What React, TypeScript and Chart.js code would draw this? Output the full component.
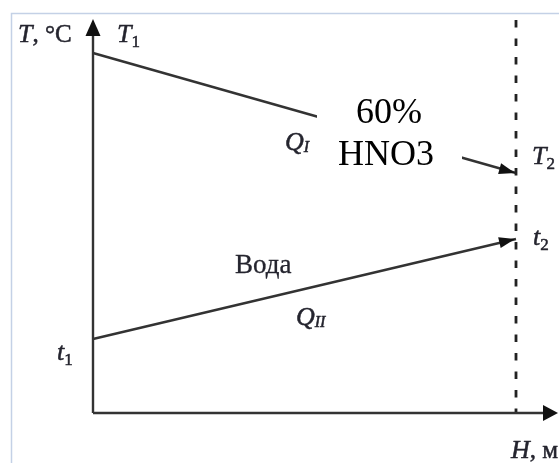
import { useEffect, useRef } from "react";
import { Chart, registerables } from "chart.js";

Chart.register(...registerables);

// Relative height of the column section: inlet and outlet
const SECTION_H = [0, 1];
// Acid temperature along the height: T1 at the inlet, T2 at the outlet
const ACID_T = [90, 60];
// Cooling water temperature: t1 at the inlet, t2 at the outlet
const WATER_T = [18.5, 43.5];

const ACID_LABEL = ["60%", "HNO3"];
const WATER_LABEL = "Вода";
const AXIS_Y_LABEL = ["T", ", °C"];
const AXIS_X_LABEL = ["H", ", м"];
const ACID_POINT_LABELS = [["T", "1"], ["T", "2"]];
const WATER_POINT_LABELS = [["t", "1"], ["t", "2"]];
const HEAT_LABELS = [["Q", "I"], ["Q", "II"]];

const INK = "#24242e";
const LINE = "#333333";
const SERIF = '"Liberation Serif", "Times New Roman", serif';

type Run = { t: string; it?: boolean; size: number; dy?: number };

// Draws a sequence of text runs; a hairline stroke gives the formula text a heavier face
function drawRuns(ctx: CanvasRenderingContext2D, x: number, y: number, runs: Run[], weight = 0.5) {
  let cx = x;
  ctx.textAlign = "left";
  ctx.textBaseline = "alphabetic";
  ctx.fillStyle = INK;
  ctx.strokeStyle = INK;
  ctx.lineWidth = weight;
  ctx.lineJoin = "round";
  for (const r of runs) {
    ctx.font = `${r.it ? "italic " : ""}${r.size}px ${SERIF}`;
    ctx.fillText(r.t, cx, y + (r.dy ?? 0));
    if (weight > 0) ctx.strokeText(r.t, cx, y + (r.dy ?? 0));
    cx += ctx.measureText(r.t).width;
  }
}

function sym(parts: string[]): Run[] {
  return [
    { t: parts[0], it: true, size: 26 },
    { t: parts[1], size: 17, dy: 5 },
  ];
}

function heat(parts: string[]): Run[] {
  return [
    { t: parts[0], it: true, size: 26 },
    { t: parts[1], it: true, size: 16, dy: 2 },
  ];
}

function arrowHead(
  ctx: CanvasRenderingContext2D,
  tipX: number,
  tipY: number,
  angle: number,
  len: number,
  half: number
) {
  const c = Math.cos(angle);
  const s = Math.sin(angle);
  const bx = tipX - c * len;
  const by = tipY - s * len;
  ctx.beginPath();
  ctx.moveTo(tipX, tipY);
  ctx.lineTo(bx - s * half, by + c * half);
  ctx.lineTo(bx + s * half, by - c * half);
  ctx.closePath();
  ctx.fill();
}

const schemePlugin = {
  id: "scheme",
  beforeDraw(chart: any) {
    const { ctx } = chart;
    ctx.save();
    ctx.fillStyle = "#ffffff";
    ctx.fillRect(0, 0, chart.width, chart.height);
    // thin frame on the left and top
    ctx.strokeStyle = "#c4d1e6";
    ctx.lineWidth = 1.5;
    ctx.beginPath();
    ctx.moveTo(11.5, chart.height);
    ctx.lineTo(11.5, 13.5);
    ctx.lineTo(chart.width, 13.5);
    ctx.stroke();
    ctx.restore();
  },
  afterDatasetsDraw(chart: any) {
    const { ctx } = chart;
    const xs = chart.scales.x;
    const ys = chart.scales.y;
    const x0 = xs.getPixelForValue(SECTION_H[0]);
    const xEnd = xs.getPixelForValue(SECTION_H[1]);
    const y0 = ys.getPixelForValue(0);

    ctx.save();
    ctx.fillStyle = "#111";

    // outlet boundary, dashed
    ctx.lineWidth = 2.8;
    ctx.strokeStyle = "#222";
    ctx.setLineDash([7.5, 11]);
    ctx.beginPath();
    ctx.moveTo(xEnd, 20);
    ctx.lineTo(xEnd, y0);
    ctx.stroke();
    ctx.setLineDash([]);

    // axes with arrows
    ctx.strokeStyle = LINE;
    ctx.lineWidth = 2.4;
    ctx.beginPath();
    ctx.moveTo(x0, y0);
    ctx.lineTo(x0, 30);
    ctx.moveTo(x0, y0);
    ctx.lineTo(548, y0);
    ctx.stroke();
    arrowHead(ctx, x0, 19, -Math.PI / 2, 17, 7.5);
    arrowHead(ctx, 558, y0, 0, 15, 8);

    // text frame of the acid label hides part of the acid line
    ctx.fillStyle = "#ffffff";
    ctx.fillRect(317, 92, 145, 92);

    // arrowheads at the outlet end of both streams
    ctx.fillStyle = "#111";
    const aP = [0, 1].map((i) => ({ x: xs.getPixelForValue(SECTION_H[i]), y: ys.getPixelForValue(ACID_T[i]) }));
    const wP = [0, 1].map((i) => ({ x: xs.getPixelForValue(SECTION_H[i]), y: ys.getPixelForValue(WATER_T[i]) }));
    arrowHead(ctx, aP[1].x - 1, aP[1].y, Math.atan2(aP[1].y - aP[0].y, aP[1].x - aP[0].x), 16, 5.5);
    arrowHead(ctx, wP[1].x - 1, wP[1].y, Math.atan2(wP[1].y - wP[0].y, wP[1].x - wP[0].x), 16, 5.5);

    // labels
    drawRuns(ctx, 18, 42, [
      { t: AXIS_Y_LABEL[0], it: true, size: 26 },
      { t: AXIS_Y_LABEL[1], size: 25 },
    ]);
    drawRuns(ctx, 511, 458, [
      { t: AXIS_X_LABEL[0], it: true, size: 26 },
      { t: AXIS_X_LABEL[1], size: 25 },
    ]);
    drawRuns(ctx, aP[0].x + 24, aP[0].y - 11, sym(ACID_POINT_LABELS[0]));
    drawRuns(ctx, aP[1].x + 16, aP[1].y - 9, sym(ACID_POINT_LABELS[1]));
    drawRuns(ctx, wP[0].x - 36, wP[0].y + 21, sym(WATER_POINT_LABELS[0]));
    drawRuns(ctx, wP[1].x + 17, wP[1].y + 6, sym(WATER_POINT_LABELS[1]));
    drawRuns(ctx, 285, 150, heat(HEAT_LABELS[0]));
    drawRuns(ctx, 296, 325, heat(HEAT_LABELS[1]));

    drawRuns(ctx, 235, 273, [{ t: WATER_LABEL, size: 27 }], 0.3);

    ctx.fillStyle = "#000";
    ctx.font = `36px ${SERIF}`;
    ctx.textAlign = "center";
    ctx.fillText(ACID_LABEL[0], 389, 123);
    ctx.fillText(ACID_LABEL[1], 386, 165);
    ctx.restore();
  },
};

export default function App() {
  const ref = useRef<HTMLCanvasElement | null>(null);

  useEffect(() => {
    if (!ref.current) return;
    const toPoints = (temps: number[]) => SECTION_H.map((h, i) => ({ x: h, y: temps[i] }));
    const chart = new Chart(ref.current, {
      type: "line",
      data: {
        datasets: [
          {
            label: "HNO3",
            data: toPoints(ACID_T),
            borderColor: LINE,
            borderWidth: 2.4,
            pointRadius: 0,
            clip: false as any,
          },
          {
            label: WATER_LABEL,
            data: toPoints(WATER_T),
            borderColor: LINE,
            borderWidth: 2.4,
            pointRadius: 0,
            clip: false as any,
          },
        ],
      },
      options: {
        responsive: false,
        animation: false,
        devicePixelRatio: 1,
        layout: { padding: { left: 93, right: 43, top: 13, bottom: 50 } },
        scales: {
          x: { type: "linear", min: 0, max: 1, display: false },
          y: { type: "linear", min: 0, max: 100, display: false },
        },
        plugins: {
          legend: { display: false },
          tooltip: { enabled: false },
        },
      },
      plugins: [schemePlugin],
    });
    return () => chart.destroy();
  }, []);

  return (
    <div style={{ position: "fixed", left: 0, top: 0, width: 559, height: 463, background: "#fff" }}>
      <canvas ref={ref} width={559} height={463} style={{ width: 559, height: 463, display: "block" }} />
    </div>
  );
}
